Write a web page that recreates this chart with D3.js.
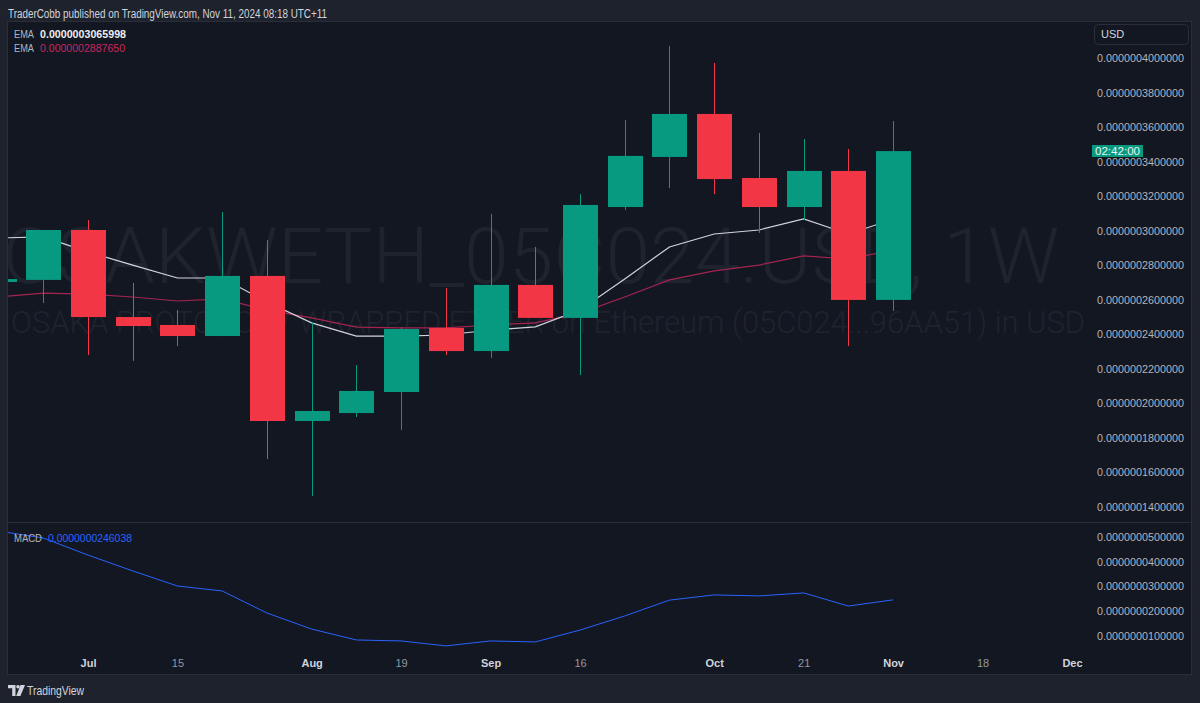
<!DOCTYPE html>
<html>
<head>
<meta charset="utf-8">
<style>
body { margin: 0; background: #1e222d; }
svg { display: block; font-family: "Liberation Sans", Arial, sans-serif; }
</style>
</head>
<body>
<div id="chart"></div>
<script src="https://cdn.jsdelivr.net/npm/d3@7"></script>
<script>
// weekly bars, values in USD
var weeks = ["2024-06-17","2024-06-24","2024-07-01","2024-07-08","2024-07-15","2024-07-22","2024-07-29",
    "2024-08-05","2024-08-12","2024-08-19","2024-08-26","2024-09-02","2024-09-09","2024-09-16",
    "2024-09-23","2024-09-30","2024-10-07","2024-10-14","2024-10-21","2024-10-28","2024-11-04"];
var open  = [2.703e-7,2.715e-7,3.004e-7,2.500e-7,2.454e-7,2.390e-7,2.738e-7,1.898e-7,1.944e-7,2.066e-7,2.437e-7,
    2.303e-7,2.686e-7,2.495e-7,3.137e-7,3.427e-7,3.676e-7,3.305e-7,3.137e-7,3.346e-7,2.599e-7];
var high  = [2.725e-7,3.004e-7,3.062e-7,2.697e-7,2.541e-7,3.108e-7,2.946e-7,2.470e-7,2.222e-7,2.440e-7,2.668e-7,
    3.097e-7,2.906e-7,3.212e-7,3.641e-7,4.069e-7,3.971e-7,3.566e-7,3.531e-7,3.473e-7,3.635e-7];
var low   = [2.690e-7,2.581e-7,2.280e-7,2.246e-7,2.332e-7,2.390e-7,1.678e-7,1.464e-7,1.921e-7,1.846e-7,2.280e-7,
    2.263e-7,2.495e-7,2.164e-7,3.120e-7,3.247e-7,3.212e-7,2.987e-7,3.062e-7,2.332e-7,2.535e-7];
var close = [2.720e-7,3.004e-7,2.500e-7,2.448e-7,2.390e-7,2.738e-7,1.898e-7,1.956e-7,2.072e-7,2.431e-7,2.303e-7,
    2.686e-7,2.495e-7,3.149e-7,3.433e-7,3.676e-7,3.299e-7,3.137e-7,3.346e-7,2.599e-7,3.461e-7];
var emaFast = [2.958e-7,2.964e-7,2.877e-7,2.801e-7,2.726e-7,2.726e-7,2.587e-7,2.466e-7,2.390e-7,2.390e-7,2.396e-7,
    2.425e-7,2.443e-7,2.541e-7,2.720e-7,2.906e-7,2.981e-7,3.004e-7,3.068e-7,2.981e-7,3.065998e-7];
var emaSlow = [2.616e-7,2.639e-7,2.633e-7,2.616e-7,2.593e-7,2.605e-7,2.541e-7,2.495e-7,2.442e-7,2.437e-7,2.437e-7,
    2.454e-7,2.466e-7,2.523e-7,2.616e-7,2.715e-7,2.767e-7,2.801e-7,2.854e-7,2.836e-7,2.88765e-7];
var macd = [5.24e-8,4.96e-8,4.27e-8,3.63e-8,3.02e-8,2.82e-8,1.93e-8,1.28e-8,0.84e-8,0.80e-8,0.60e-8,
    0.80e-8,0.76e-8,1.24e-8,1.81e-8,2.45e-8,2.66e-8,2.62e-8,2.74e-8,2.21e-8,2.46038e-8];

var priceTicks = [1.4e-7,1.6e-7,1.8e-7,2.0e-7,2.2e-7,2.4e-7,2.6e-7,2.8e-7,3.0e-7,3.2e-7,3.4e-7,3.6e-7,3.8e-7,4.0e-7];
var macdTicks = [1e-8,2e-8,3e-8,4e-8,5e-8];
var timeTicks = ["2024-07-01","2024-07-15","2024-08-05","2024-08-19","2024-09-02","2024-09-16",
    "2024-10-07","2024-10-21","2024-11-04","2024-11-18","2024-12-02"];
var timeLabels = ["Jul","15","Aug","19","Sep","16","Oct","21","Nov","18","Dec"];

var up = "#089981", down = "#f23645";
var W = 1200, H = 703;
var plotL = 8, plotR = 1090;

var parse = d3.utcParse("%Y-%m-%d");
var bars = weeks.map(function (w, i) {
    return {date: parse(w), o: open[i], h: high[i], l: low[i], c: close[i],
        f: emaFast[i], s: emaSlow[i], m: macd[i]};
});

var x = d3.scaleUtc().domain([parse("2024-07-01"), parse("2024-12-02")]).range([88, 1072]);
var y = d3.scaleLinear().domain([1.4e-7, 4.0e-7]).range([507, 58]);
var ym = d3.scaleLinear().domain([1e-8, 5e-8]).range([636, 537]);

var svg = d3.select('#chart').append('svg')
    .attr('width', W).attr('height', H);

svg.append('rect').attr('width', W).attr('height', H).attr('fill', '#1e222d');
svg.append('rect')
    .attr('x', 7.5).attr('y', 21.5).attr('width', 1184).attr('height', 653)
    .attr('fill', '#131722').attr('stroke', '#2a2e39');

svg.append('text').attr('x', 8).attr('y', 17.5)
    .attr('fill', '#d1d4dc').attr('font-size', 12)
    .attr('textLength', 319).attr('lengthAdjust', 'spacingAndGlyphs')
    .text('TraderCobb published on TradingView.com, Nov 11, 2024 08:18 UTC+11');

var defs = svg.append('defs');
defs.append('clipPath').attr('id', 'clipMain').append('rect')
    .attr('x', plotL).attr('y', 22).attr('width', plotR - plotL).attr('height', 500);
defs.append('clipPath').attr('id', 'clipMacd').append('rect')
    .attr('x', plotL).attr('y', 523).attr('width', plotR - plotL).attr('height', 130);

// pane divider
svg.append('line').attr('x1', 8).attr('x2', 1191).attr('y1', 522.5).attr('y2', 522.5)
    .attr('stroke', '#2a2e39');

var main = svg.append('g').attr('clip-path', 'url(#clipMain)');

// watermark
main.append('text').attr('x', 531).attr('y', 283).attr('text-anchor', 'middle')
    .attr('font-family', 'Roboto, "Open Sans", sans-serif')
    .attr('font-size', 77).attr('font-weight', 300).attr('fill', '#1f232e')
    .attr('textLength', 1057).attr('lengthAdjust', 'spacingAndGlyphs')
    .text('OSAKWETH_05C024.USD, 1W');
main.append('text').attr('x', 548).attr('y', 333).attr('text-anchor', 'middle')
    .attr('font-family', 'Roboto, "Open Sans", sans-serif')
    .attr('font-size', 31).attr('font-weight', 300).attr('fill', '#1f232e')
    .attr('textLength', 1074).attr('lengthAdjust', 'spacingAndGlyphs')
    .text('OSAKA PROTOCOL / WRAPPED ETHER on Ethereum (05C024...96AA51) in USD');

// EMA lines
main.append('path').datum(bars)
    .attr('fill', 'none').attr('stroke', '#a3254f').attr('stroke-width', 1.2)
    .attr('d', d3.line().x(d => x(d.date)).y(d => y(d.s)));
main.append('path').datum(bars)
    .attr('fill', 'none').attr('stroke', '#d1d4dc').attr('stroke-width', 1.2)
    .attr('d', d3.line().x(d => x(d.date)).y(d => y(d.f)));

// candles
var bw = 35;
var candle = main.selectAll('g.candle').data(bars).enter().append('g').attr('class', 'candle');
candle.append('line')
    .attr('x1', d => Math.round(x(d.date)) + 0.5).attr('x2', d => Math.round(x(d.date)) + 0.5)
    .attr('y1', d => y(d.h)).attr('y2', d => y(d.l))
    .attr('stroke', d => d.c >= d.o ? up : down);
candle.append('rect')
    .attr('x', d => Math.round(x(d.date)) + 0.5 - bw / 2)
    .attr('width', bw)
    .attr('y', d => y(Math.max(d.o, d.c)))
    .attr('height', d => Math.max(1, Math.abs(y(d.o) - y(d.c))))
    .attr('fill', d => d.c >= d.o ? up : down);

// MACD pane
var mp = svg.append('g').attr('clip-path', 'url(#clipMacd)');
mp.append('path').datum(bars)
    .attr('fill', 'none').attr('stroke', '#2962ff').attr('stroke-width', 1)
    .attr('d', d3.line().x(d => x(d.date)).y(d => ym(d.m)));

// legends
var leg = svg.append('g').attr('font-size', 11.5);
leg.append('text').attr('x', 14).attr('y', 38).attr('fill', '#b2b5be')
    .attr('textLength', 20).attr('lengthAdjust', 'spacingAndGlyphs').text('EMA');
leg.append('text').attr('x', 40).attr('y', 38).attr('fill', '#eceef2').attr('font-weight', 700)
    .attr('textLength', 86).attr('lengthAdjust', 'spacingAndGlyphs')
    .text('0.0000003065998');
leg.append('text').attr('x', 14).attr('y', 52).attr('fill', '#b2b5be')
    .attr('textLength', 20).attr('lengthAdjust', 'spacingAndGlyphs').text('EMA');
leg.append('text').attr('x', 40).attr('y', 52).attr('fill', '#c7285e')
    .attr('textLength', 85).attr('lengthAdjust', 'spacingAndGlyphs')
    .text('0.0000002887650');
leg.append('text').attr('x', 14).attr('y', 542).attr('fill', '#b2b5be')
    .attr('textLength', 28).attr('lengthAdjust', 'spacingAndGlyphs').text('MACD');
leg.append('text').attr('x', 48).attr('y', 542).attr('fill', '#2962ff')
    .attr('textLength', 84).attr('lengthAdjust', 'spacingAndGlyphs')
    .text('0.0000000246038');

// price axis
var fmt = d3.format('.13f');
var yAxis = svg.append('g').attr('transform', 'translate(1184,0)')
    .call(d3.axisLeft(y).tickValues(priceTicks).tickFormat(fmt).tickSize(0).tickPadding(0));
var mAxis = svg.append('g').attr('transform', 'translate(1184,0)')
    .call(d3.axisLeft(ym).tickValues(macdTicks).tickFormat(fmt).tickSize(0).tickPadding(0));
[yAxis, mAxis].forEach(function (a) {
    a.select('.domain').remove();
    a.selectAll('text').attr('fill', '#b2b5be').attr('font-size', 10.8)
        .attr('font-family', '"Liberation Sans", Arial, sans-serif');
});

// time axis
var xAxis = svg.append('g').attr('transform', 'translate(0,659)')
    .call(d3.axisBottom(x).tickValues(timeTicks.map(parse))
        .tickFormat((d, i) => timeLabels[i]).tickSize(0).tickPadding(0));
xAxis.select('.domain').remove();
xAxis.selectAll('text')
    .attr('font-size', 11).attr('font-family', '"Liberation Sans", Arial, sans-serif')
    .attr('fill', (d, i) => isNaN(+timeLabels[i]) ? '#d1d4dc' : '#9598a1')
    .attr('font-weight', (d, i) => isNaN(+timeLabels[i]) ? 700 : 400);

// currency box
svg.append('rect').attr('x', 1094.5).attr('y', 24.5).attr('width', 94).attr('height', 20).attr('rx', 4)
    .attr('fill', '#131722').attr('stroke', '#2a2e39');
svg.append('text').attr('x', 1101).attr('y', 38).attr('fill', '#d1d4dc').attr('font-size', 11)
    .text('USD');

// countdown label
svg.append('rect').attr('x', 1092).attr('y', 145).attr('width', 51).attr('height', 12).attr('fill', up);
svg.append('text').attr('x', 1095).attr('y', 155).attr('fill', '#e8f5f2').attr('font-size', 11)
    .attr('textLength', 45).attr('lengthAdjust', 'spacingAndGlyphs')
    .text('02:42:00');

// footer logo
var logo = svg.append('g').attr('fill', '#d1d4dc');
logo.append('path').attr('d', 'M8,685 h7.5 v11 h-3.3 v-7.8 h-4.2 z');
logo.append('circle').attr('cx', 18).attr('cy', 686.8).attr('r', 1.8);
logo.append('path').attr('d', 'M20.5,685 h4.5 l-4.6,11 h-4.2 z');
svg.append('text').attr('x', 27).attr('y', 695).attr('fill', '#d1d4dc').attr('font-size', 13)
    .attr('textLength', 57).attr('lengthAdjust', 'spacingAndGlyphs')
    .text('TradingView');
</script>
</body>
</html>
